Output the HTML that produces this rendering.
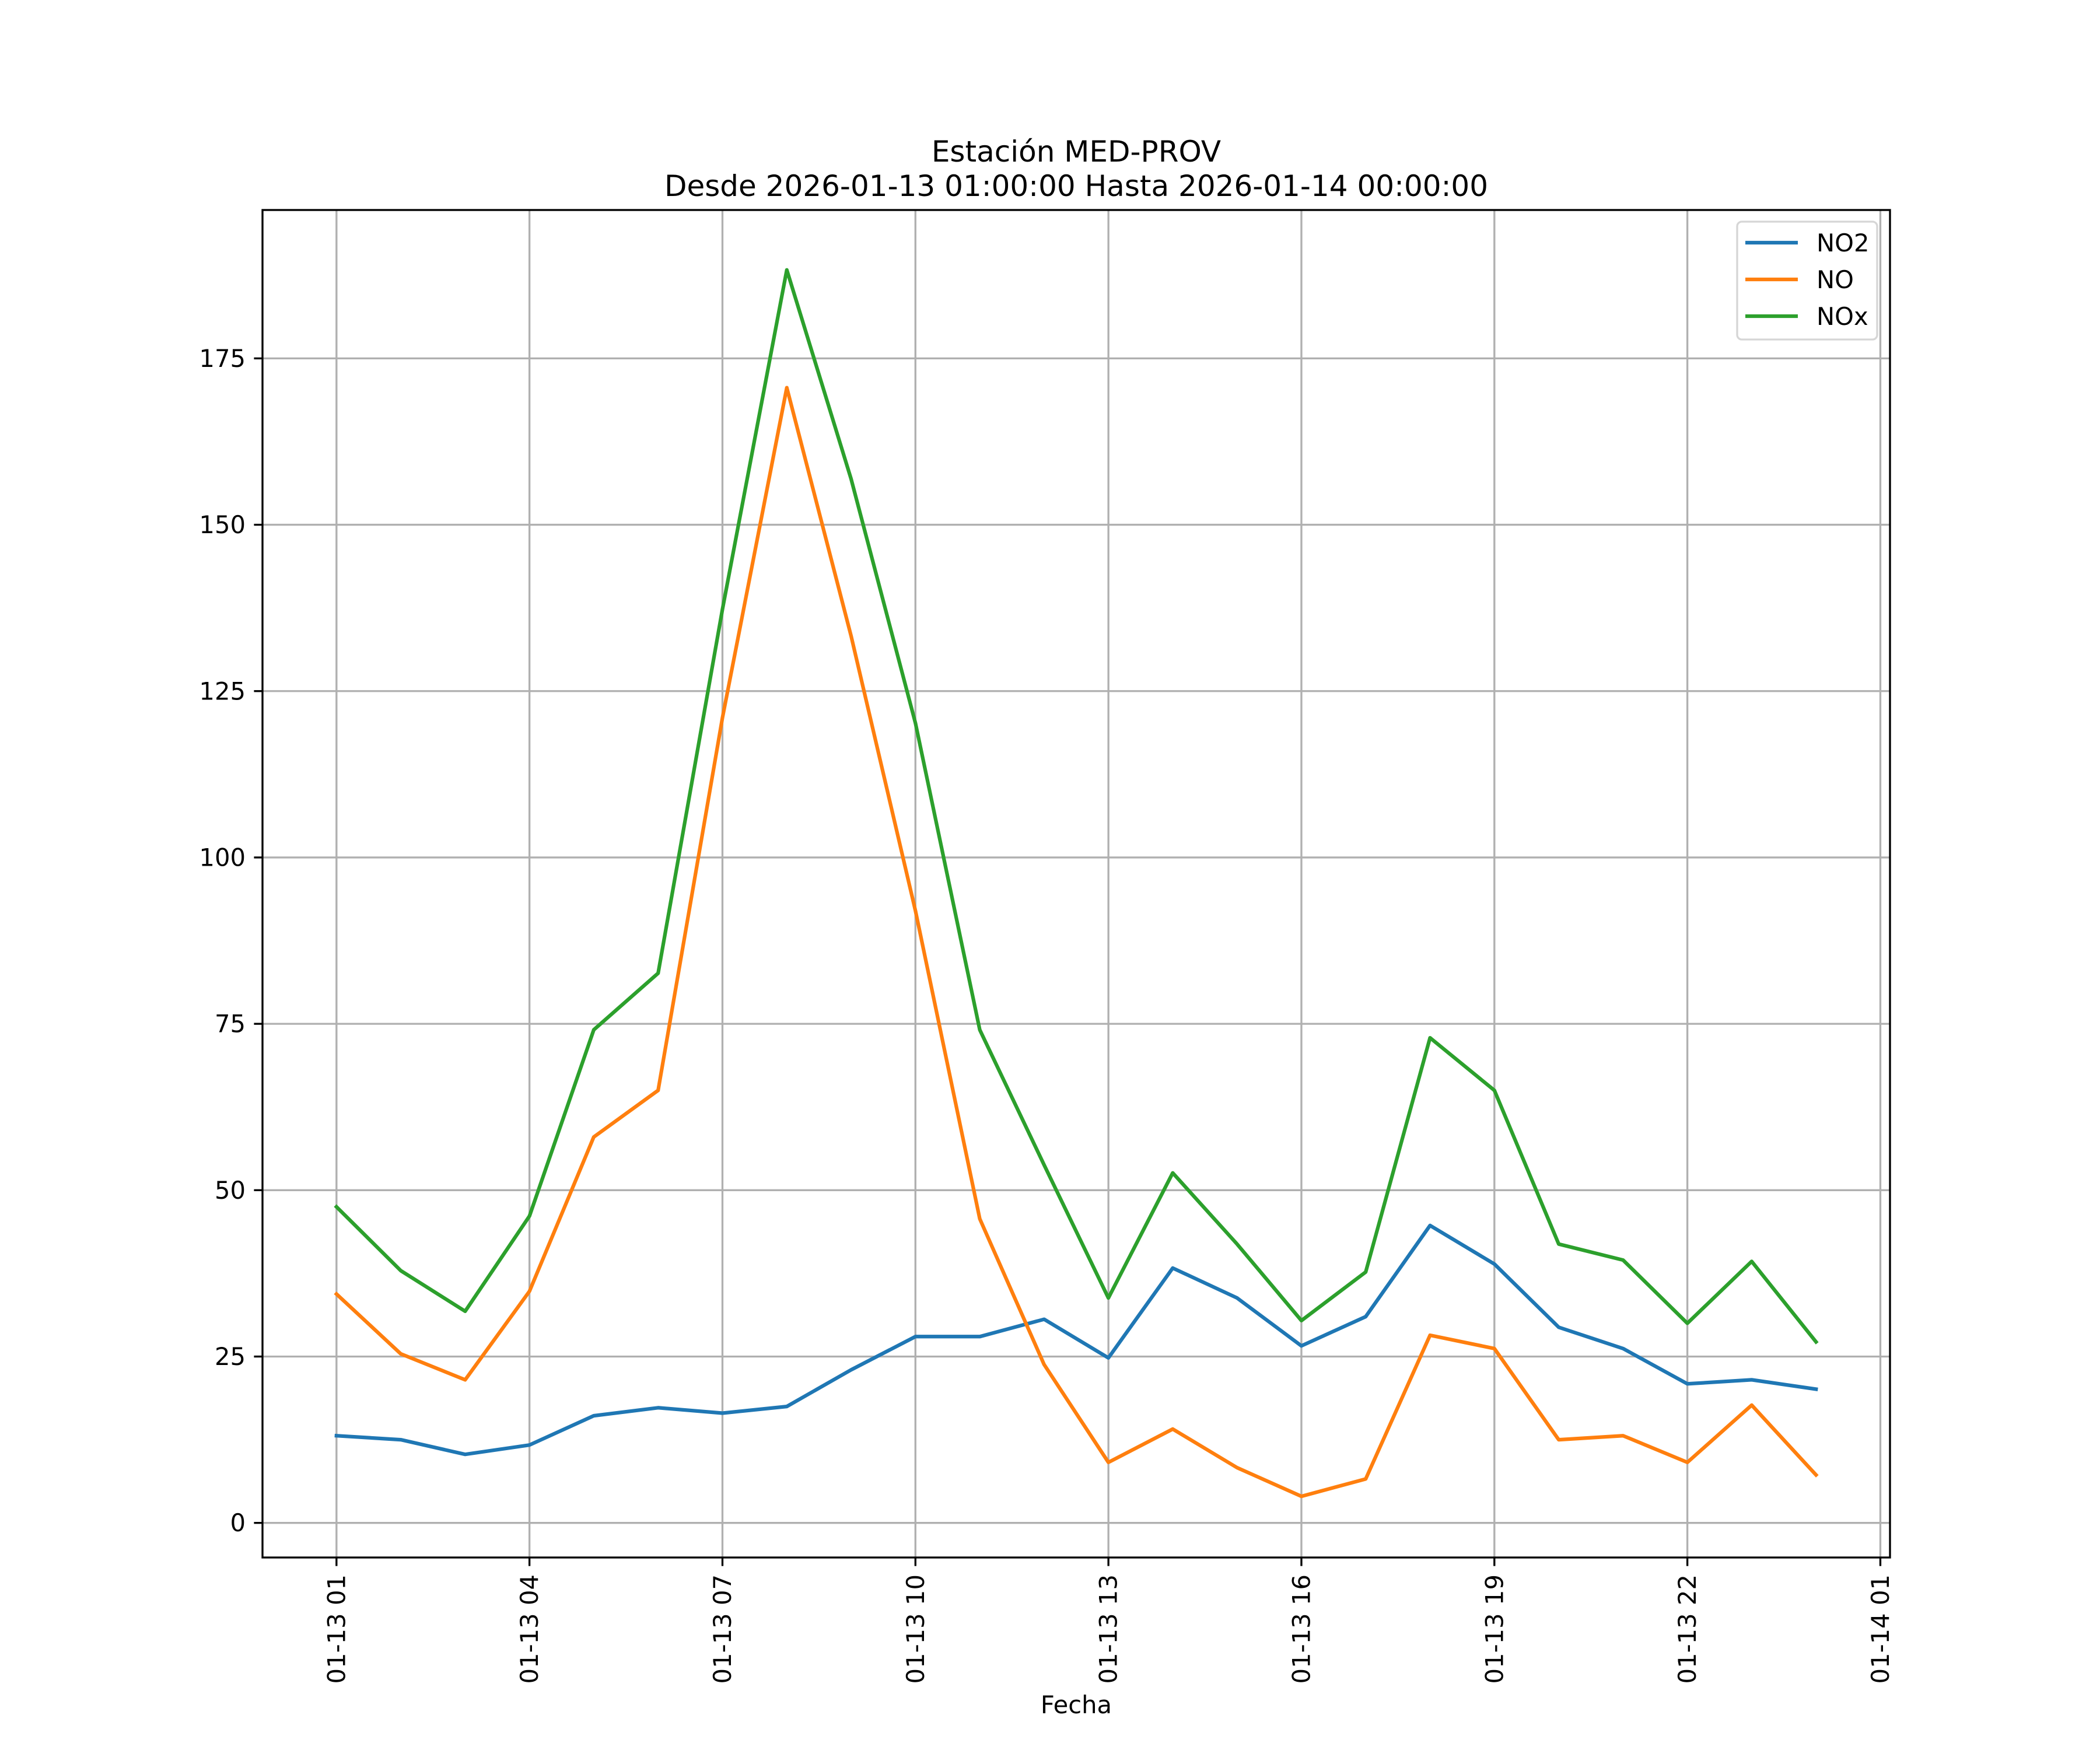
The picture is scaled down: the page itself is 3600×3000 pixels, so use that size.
<!DOCTYPE html>
<html><head><meta charset="utf-8"><style>
html,body{margin:0;padding:0;background:#fff}
svg{display:block;font-family:"DejaVu Sans","Liberation Sans",sans-serif}
</style></head><body>
<svg id="chart" width="3600" height="3000" viewBox="0 0 3600 3000" xmlns="http://www.w3.org/2000/svg">
<rect x="0" y="0" width="3600" height="3000" fill="#fff"/>
<text x="1845" y="277" font-size="50" text-anchor="middle">Estación MED-PROV</text>
<text x="1845" y="336" font-size="50" text-anchor="middle">Desde 2026-01-13 01:00:00 Hasta 2026-01-14 00:00:00</text>
<g id="grid"></g>
<g id="series"></g>
<rect x="450" y="360" width="2790" height="2310" fill="none" stroke="#000" stroke-width="3.33"/>
<g id="ticks"></g>
<text x="1845" y="2937" font-size="41.7" text-anchor="middle">Fecha</text>
<g>
<rect x="2978" y="380" width="240" height="202" rx="8" fill="#fff" fill-opacity="0.8" stroke="#d6d6d6" stroke-width="3.33"/>
<line x1="2992" y1="416" x2="3082" y2="416" stroke="#1f77b4" stroke-width="6.25"/>
<text x="3114" y="431" font-size="41.7">NO2</text>
<line x1="2992" y1="479" x2="3082" y2="479" stroke="#ff7f0e" stroke-width="6.25"/>
<text x="3114" y="494" font-size="41.7">NO</text>
<line x1="2992" y1="542" x2="3082" y2="542" stroke="#2ca02c" stroke-width="6.25"/>
<text x="3114" y="557" font-size="41.7">NOx</text>
</g>
</svg>
<script>
const hours = [1,2,3,4,5,6,7,8,9,10,11,12,13,14,15,16,17,18,19,20,21,22,23,24];
const no2 = [13.1,12.5,10.3,11.7,16.1,17.3,16.5,17.5,23,28,28,30.6,24.8,38.3,33.8,26.6,31,44.7,38.9,29.4,26.2,20.9,21.5,20.1];
const no = [34.4,25.4,21.5,34.8,58,65,121,170.6,133.3,92,45.7,23.8,9.1,14.1,8.3,4.0,6.6,28.2,26.2,12.5,13.1,9.1,17.7,7.2];
const nox = [47.5,37.9,31.8,46.1,74.1,82.6,137.3,188.3,156.9,120.2,74.1,53.8,33.8,52.6,41.9,30.4,37.7,72.9,65,41.9,39.5,30,39.3,27.2];
const xTickHours = [1,4,7,10,13,16,19,22,25];
const xTickLabels = ["01-13 01","01-13 04","01-13 07","01-13 10","01-13 13","01-13 16","01-13 19","01-13 22","01-14 01"];
const yTicks = [0,25,50,75,100,125,150,175];

const L=450,R=3240,T=360,B=2670;
const xMin=-0.15,xMax=25.15,yMin=-5.2,yMax=197.3;
const xs=h=>L+(h-xMin)/(xMax-xMin)*(R-L);
const ys=v=>B-(v-yMin)/(yMax-yMin)*(B-T);
const NS="http://www.w3.org/2000/svg";
function mk(tag,parent,attrs){const e=document.createElementNS(NS,tag);for(const k in attrs)e.setAttribute(k,attrs[k]);parent.appendChild(e);return e;}
const grid=document.getElementById('grid'),ticks=document.getElementById('ticks'),series=document.getElementById('series');
xTickHours.forEach((h,i)=>{
  const x=xs(h);
  const g=mk('line',grid,{x1:x,y1:T,x2:x,y2:B,stroke:'#b0b0b0','stroke-width':3.33});
  
  
  const t=mk('line',ticks,{x1:x,y1:B,x2:x,y2:B+14.6,stroke:'#000','stroke-width':3.33});
  
  
  const lb=mk('text',ticks,{x:x,y:B+29,'font-size':41.7,'text-anchor':'end','dominant-baseline':'central',transform:`rotate(-90 ${x} ${B+29})`});
  lb.textContent=xTickLabels[i];
  
  
});
yTicks.forEach(v=>{
  const y=ys(v);
  const g=mk('line',grid,{x1:L,y1:y,x2:R,y2:y,stroke:'#b0b0b0','stroke-width':3.33});
  
  
  const t=mk('line',ticks,{x1:L-14.6,y1:y,x2:L,y2:y,stroke:'#000','stroke-width':3.33});
  
  
  const lb=mk('text',ticks,{x:L-29,y:y,'font-size':41.7,'text-anchor':'end','dominant-baseline':'central'});
  lb.textContent=String(v);
  
  
});
[[no2,'#1f77b4','line-no2'],[no,'#ff7f0e','line-no'],[nox,'#2ca02c','line-nox']].forEach(([d,c,n])=>{
  const pts=d.map((v,i)=>xs(hours[i]).toFixed(1)+','+ys(v).toFixed(1)).join(' ');
  const p=mk('polyline',series,{points:pts,fill:'none',stroke:c,'stroke-width':6.25,'stroke-linejoin':'round','stroke-linecap':'square'});
  
  
});
</script>
</body></html>
